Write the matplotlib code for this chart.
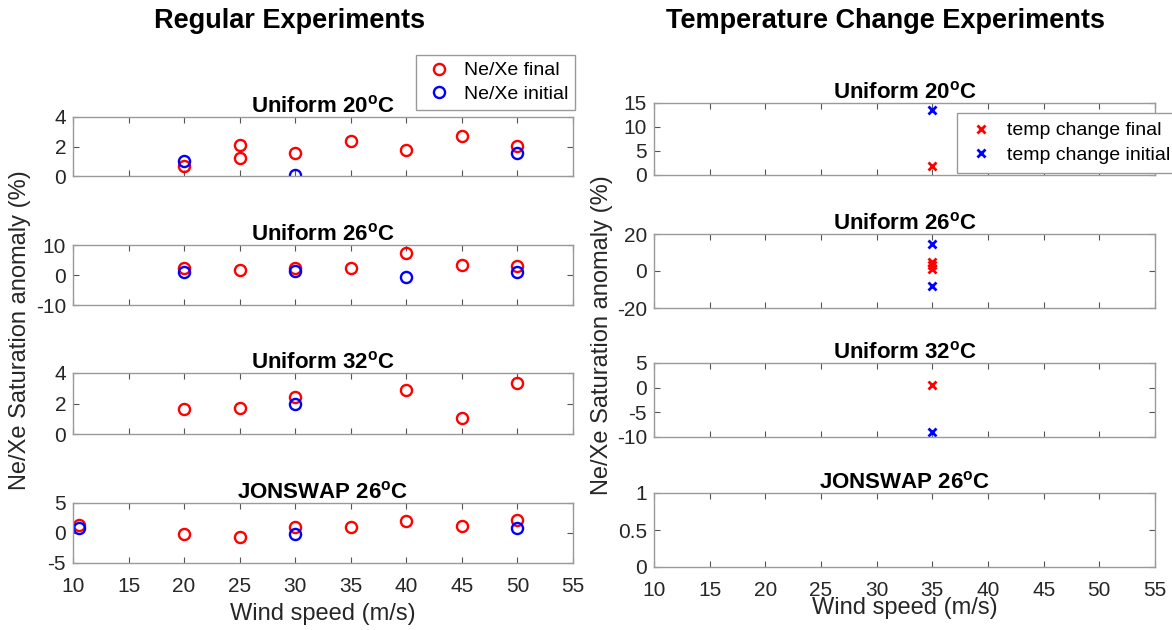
import matplotlib.pyplot as plt
from matplotlib.lines import Line2D

plt.rcParams['font.family'] = ['Liberation Sans', 'DejaVu Sans']
plt.rcParams['mathtext.fontset'] = 'custom'
plt.rcParams['mathtext.rm'] = 'Liberation Sans'
plt.rcParams['mathtext.bf'] = 'Liberation Sans:bold'
plt.rcParams['axes.unicode_minus'] = False

# panel titles
panel_titles = ['Uniform 20$^{\\mathbf{o}}$C', 'Uniform 26$^{\\mathbf{o}}$C',
                'Uniform 32$^{\\mathbf{o}}$C', 'JONSWAP 26$^{\\mathbf{o}}$C']

# Regular experiments: wind speed (m/s) and Ne/Xe saturation anomaly (%)
u20_final_x = [20, 25, 25, 30, 35, 40, 45, 50]
u20_final_y = [0.65, 2.1, 1.2, 1.55, 2.35, 1.75, 2.7, 2.05]
u20_init_x = [20, 30, 50]
u20_init_y = [1.05, 0.1, 1.55]

u26_final_x = [20, 25, 30, 35, 40, 45, 50]
u26_final_y = [2.3, 1.6, 2.3, 2.2, 7.3, 3.3, 3.0]
u26_init_x = [20, 30, 40, 50]
u26_init_y = [1.0, 1.3, -0.8, 1.0]

u32_final_x = [20, 25, 30, 40, 45, 50]
u32_final_y = [1.65, 1.7, 2.4, 2.9, 1.05, 3.35]
u32_init_x = [30]
u32_init_y = [1.95]

jon_final_x = [10.5, 20, 25, 30, 35, 40, 45, 50]
jon_final_y = [1.3, -0.1, -0.6, 1.0, 1.0, 2.0, 1.1, 2.1]
jon_init_x = [10.5, 30, 50]
jon_init_y = [0.85, -0.1, 0.9]

# Temperature change experiments
tc20_final_x = [35]
tc20_final_y = [1.8]
tc20_init_x = [35]
tc20_init_y = [13.6]

tc26_final_x = [35, 35, 35]
tc26_final_y = [5.0, 3.0, 1.0]
tc26_init_x = [35, 35]
tc26_init_y = [14.5, -8.0]

tc32_final_x = [35]
tc32_final_y = [0.6]
tc32_init_x = [35]
tc32_init_y = [-9.0]

tcjon_final_x = []
tcjon_final_y = []
tcjon_init_x = []
tcjon_init_y = []

left_ylims = [(0, 4), (-10, 10), (0, 4), (-5, 5)]
left_yticks = [[0, 2, 4], [-10, 0, 10], [0, 2, 4], [-5, 0, 5]]
right_ylims = [(0, 15), (-20, 20), (-10, 5), (0, 1)]
right_yticks = [[0, 5, 10, 15], [-20, 0, 20], [-10, -5, 0, 5], [0, 0.5, 1]]
xticks = [10, 15, 20, 25, 30, 35, 40, 45, 50, 55]

left_data = [(u20_final_x, u20_final_y, u20_init_x, u20_init_y),
             (u26_final_x, u26_final_y, u26_init_x, u26_init_y),
             (u32_final_x, u32_final_y, u32_init_x, u32_init_y),
             (jon_final_x, jon_final_y, jon_init_x, jon_init_y)]
right_data = [(tc20_final_x, tc20_final_y, tc20_init_x, tc20_init_y),
              (tc26_final_x, tc26_final_y, tc26_init_x, tc26_init_y),
              (tc32_final_x, tc32_final_y, tc32_init_x, tc32_init_y),
              (tcjon_final_x, tcjon_final_y, tcjon_init_x, tcjon_init_y)]

W, H = 1172, 630
fig = plt.figure(figsize=(W / 100, H / 100), dpi=100)

# axes boxes in pixels: (top, bottom)
left_rows = [(117, 176), (245, 305), (373, 434), (503, 563)]
right_rows = [(103, 175), (234, 308), (363, 437), (493, 567)]


def make_axes(x0, w, top, bottom):
    return fig.add_axes([x0 / W, 1 - bottom / H, w / W, (bottom - top) / H])


def style(ax, ylim, yticks, last):
    ax.set_xlim(10, 55)
    ax.set_ylim(*ylim)
    ax.set_xticks(xticks)
    ax.set_yticks(yticks)
    ax.set_yticklabels(['%g' % t for t in yticks])
    ax.tick_params(direction='in', top=True, right=True, length=4,
                   color='#555555', labelsize=15, labelcolor='#262626')
    ax.tick_params(axis='y', pad=5)
    ax.tick_params(axis='x', pad=10)
    if not last:
        ax.set_xticklabels([])
    for s in ax.spines.values():
        s.set_color('#9a9a9a')
        s.set_linewidth(1)


for i in range(4):
    ax = make_axes(73, 500, *left_rows[i])
    fx, fy, ix, iy = left_data[i]
    ax.plot(fx, fy, 'o', color='red', mfc='none', ms=8, mew=1.7, ls='none')
    ax.plot(ix, iy, 'o', color='blue', mfc='none', ms=8, mew=1.7, ls='none')
    style(ax, left_ylims[i], left_yticks[i], i == 3)
    ax.set_title(panel_titles[i], fontsize=16, fontweight='bold', pad=3)
    if i == 3:
        ax.set_xlabel('Wind speed (m/s)', fontsize=17, color='#262626', labelpad=5)

    ax = make_axes(654, 501, *right_rows[i])
    fx, fy, ix, iy = right_data[i]
    ax.plot(fx, fy, 'x', color='red', ms=6, mew=2, ls='none')
    ax.plot(ix, iy, 'x', color='blue', ms=6, mew=2, ls='none')
    style(ax, right_ylims[i], right_yticks[i], i == 3)
    ax.set_title(panel_titles[i], fontsize=16, fontweight='bold', pad=3)
    if i == 3:
        ax.set_xlabel('Wind speed (m/s)', fontsize=17, color='#262626', labelpad=-2)

fig.text(290 / W, 1 - 21 / H, 'Regular Experiments', fontsize=19.5, fontweight='bold',
         ha='center', va='center')
fig.text(885 / W, 1 - 21 / H, 'Temperature Change Experiments', fontsize=19.5,
         fontweight='bold', ha='center', va='center')

fig.text(20 / W, 1 - 330 / H, 'Ne/Xe Saturation anomaly (%)', fontsize=17,
         color='#262626', rotation=90, ha='center', va='center')
fig.text(602 / W, 1 - 335 / H, 'Ne/Xe Saturation anomaly (%)', fontsize=17,
         color='#262626', rotation=90, ha='center', va='center')

# legends
h_left = [Line2D([], [], marker='o', color='red', mfc='none', ms=8, mew=1.7, ls='none'),
          Line2D([], [], marker='o', color='blue', mfc='none', ms=8, mew=1.7, ls='none')]
leg = fig.legend(h_left, ['Ne/Xe final', 'Ne/Xe initial'], loc='upper right',
                 bbox_to_anchor=(575 / W, 1 - 55 / H), fontsize=14, fancybox=False,
                 framealpha=1, edgecolor='#9a9a9a', handletextpad=0.5,
                 borderpad=0.35, labelspacing=0.3, handlelength=1.6, borderaxespad=0)
leg.get_frame().set_linewidth(1)

h_right = [Line2D([], [], marker='x', color='red', ms=6, mew=2, ls='none'),
           Line2D([], [], marker='x', color='blue', ms=6, mew=2, ls='none')]
leg2 = fig.legend(h_right, ['temp change final', 'temp change initial'], loc='upper left',
                  bbox_to_anchor=(957 / W, 1 - 113 / H), fontsize=14, fancybox=False,
                  framealpha=1, edgecolor='#9a9a9a', handletextpad=0.5,
                  borderpad=0.45, labelspacing=0.35, handlelength=1.6, borderaxespad=0)
leg2.get_frame().set_linewidth(1)

fig.savefig('out.png', dpi=100)
